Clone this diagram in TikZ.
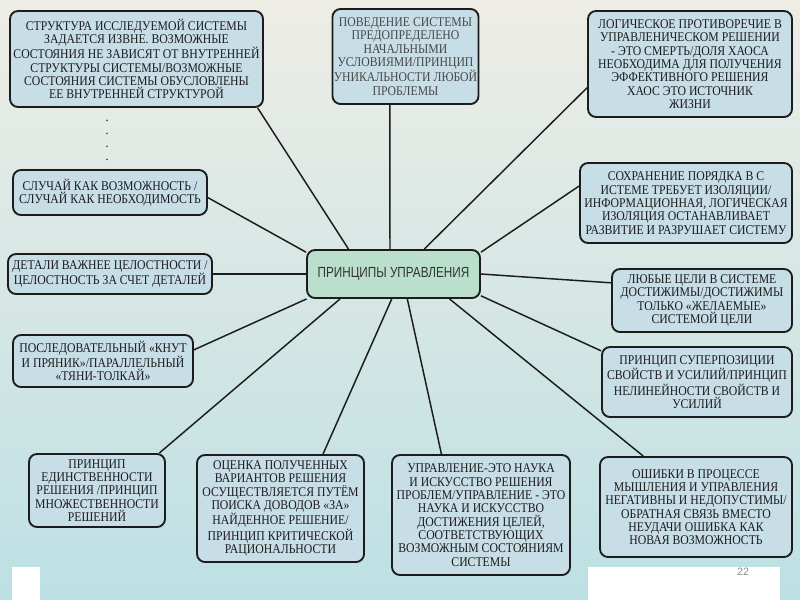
\documentclass[tikz,border=0pt]{standalone}
\usepackage{fontspec}
\usepackage{tikz}
\usetikzlibrary{positioning, calc}
\setmainfont{Liberation Serif}
\newfontfamily\boxfont[FakeStretch=0.88]{Liberation Serif}
\newfontfamily\hubfont[FakeStretch=0.8]{Liberation Sans}
\newfontfamily\numfont{Liberation Sans}
\definecolor{BoxBlue}{RGB}{200,222,231}
\definecolor{HubGreen}{RGB}{186,224,205}
\definecolor{BgTop}{RGB}{238,237,229}
\definecolor{BgBottom}{RGB}{189,224,228}
\definecolor{InkDark}{RGB}{28,28,28}

\begin{document}
\begin{tikzpicture}[x=0.75pt,y=-0.75pt,
        idea/.style={draw=InkDark,fill=BoxBlue,rounded corners=6pt,
                     line width=1.4pt,align=center,inner sep=1pt,
                     text=InkDark,font=\boxfont\fontsize{10}{10}\selectfont},
        hub/.style={draw=InkDark,fill=HubGreen,rounded corners=6pt,
                    line width=1.4pt,align=center,text=black!80,
                    font=\hubfont\fontsize{11}{12}\selectfont},
        dotmark/.style={font=\boxfont\fontsize{10}{10}\selectfont,inner sep=0pt},
        link/.style={draw=InkDark,line width=1.1pt}
      ]
        \useasboundingbox (0,0) rectangle (800,600);
        \shade[top color=BgTop,bottom color=BgBottom] (0,0) rectangle (800,600);
        \fill[white] (12,567) rectangle (40,600);
        \fill[white] (588,567) rectangle (780,600);
        \node[font=\numfont\fontsize{8}{8}\selectfont,text=black!45] (pg) at (743,572) {22};

        % centre
        \node[hub,minimum width=129.75pt,minimum height=36pt] (hub) at (393.5,274)
          {ПРИНЦИПЫ УПРАВЛЕНИЯ};

        % top row
        \node[idea,minimum width=189.75pt,minimum height=72pt] (tl) at (136.5,59)
          {СТРУКТУРА ИССЛЕДУЕМОЙ СИСТЕМЫ\\ЗАДАЕТСЯ ИЗВНЕ. ВОЗМОЖНЫЕ\\
           СОСТОЯНИЯ НЕ ЗАВИСЯТ ОТ ВНУТРЕННЕЙ\\СТРУКТУРЫ СИСТЕМЫ/ВОЗМОЖНЫЕ\\
           СОСТОЯНИЯ СИСТЕМЫ ОБУСЛОВЛЕНЫ\\ЕЕ ВНУТРЕННЕЙ СТРУКТУРОЙ};
        \node[idea,text=black!72,minimum width=102.75pt,minimum height=71.25pt] (tm) at (405.5,56.5)
          {ПОВЕДЕНИЕ СИСТЕМЫ\\ПРЕДОПРЕДЕЛЕНО\\НАЧАЛЬНЫМИ\\
           УСЛОВИЯМИ/ПРИНЦИП\\УНИКАЛЬНОСТИ ЛЮБОЙ\\ПРОБЛЕМЫ};
        \node[idea,minimum width=153pt,minimum height=79.5pt] (tr) at (690,64)
          {ЛОГИЧЕСКОЕ ПРОТИВОРЕЧИЕ В\\УПРАВЛЕНИЧЕСКОМ РЕШЕНИИ\\
           - ЭТО СМЕРТЬ/ДОЛЯ ХАОСА\\НЕОБХОДИМА ДЛЯ ПОЛУЧЕНИЯ\\
           ЭФФЕКТИВНОГО РЕШЕНИЯ\\ХАОС ЭТО ИСТОЧНИК\\ЖИЗНИ};
        \foreach \y [count=\i] in {121,134,147,160}
          \node[dotmark] (dot\i) at (107,\y) {.};

        % right column
        \node[idea,minimum width=159pt,minimum height=60pt] (r1) at (686,203)
          {СОХРАНЕНИЕ ПОРЯДКА В С\\ИСТЕМЕ ТРЕБУЕТ ИЗОЛЯЦИИ/\\
           ИНФОРМАЦИОННАЯ, ЛОГИЧЕСКАЯ\\ИЗОЛЯЦИЯ ОСТАНАВЛИВАЕТ\\
           РАЗВИТИЕ И РАЗРУШАЕТ СИСТЕМУ};
        \node[idea,minimum width=135pt,minimum height=47.25pt] (r2) at (702,300.5)
          {ЛЮБЫЕ ЦЕЛИ В СИСТЕМЕ\\ДОСТИЖИМЫ/ДОСТИЖИМЫ\\
           ТОЛЬКО «ЖЕЛАЕМЫЕ»\\СИСТЕМОЙ ЦЕЛИ};
        \node[idea,minimum width=142.5pt,minimum height=52.5pt] (r3) at (697,382)
          {ПРИНЦИП СУПЕРПОЗИЦИИ\\СВОЙСТВ И УСИЛИЙ/ПРИНЦИП\\
           НЕЛИНЕЙНОСТИ СВОЙСТВ И\\УСИЛИЙ};

        % left column
        \node[idea,minimum width=145.5pt,minimum height=33.75pt] (l1) at (110,192.5)
          {СЛУЧАЙ КАК ВОЗМОЖНОСТЬ /\\СЛУЧАЙ КАК НЕОБХОДИМОСТЬ};
        \node[idea,minimum width=153pt,minimum height=30pt] (l2) at (110,274)
          {ДЕТАЛИ ВАЖНЕЕ ЦЕЛОСТНОСТИ /\\ЦЕЛОСТНОСТЬ ЗА СЧЕТ ДЕТАЛЕЙ};
        \node[idea,minimum width=135pt,minimum height=39pt] (l3) at (103,361)
          {ПОСЛЕДОВАТЕЛЬНЫЙ «КНУТ\\И ПРЯНИК»/ПАРАЛЛЕЛЬНЫЙ\\«ТЯНИ-ТОЛКАЙ»};

        % bottom row
        \node[idea,minimum width=102pt,minimum height=54.75pt] (b1) at (97,490.5)
          {ПРИНЦИП\\ЕДИНСТВЕННОСТИ\\РЕШЕНИЯ /ПРИНЦИП\\МНОЖЕСТВЕННОСТИ\\РЕШЕНИЙ};
        \node[idea,minimum width=125.25pt,minimum height=80.25pt] (b2) at (280.5,508.5)
          {ОЦЕНКА ПОЛУЧЕННЫХ\\ВАРИАНТОВ РЕШЕНИЯ\\ОСУЩЕСТВЛЯЕТСЯ ПУТЁМ\\
           ПОИСКА ДОВОДОВ «ЗА»\\НАЙДЕННОЕ РЕШЕНИЕ/\\ПРИНЦИП КРИТИЧЕСКОЙ\\
           РАЦИОНАЛЬНОСТИ};
        \node[idea,minimum width=133.5pt,minimum height=90pt] (b3) at (481,515)
          {УПРАВЛЕНИЕ-ЭТО НАУКА\\И ИСКУССТВО РЕШЕНИЯ\\ПРОБЛЕМ/УПРАВЛЕНИЕ - ЭТО\\
           НАУКА И ИСКУССТВО\\ДОСТИЖЕНИЯ ЦЕЛЕЙ,\\СООТВЕТСТВУЮЩИХ\\
           ВОЗМОЖНЫМ СОСТОЯНИЯМ\\СИСТЕМЫ};
        \node[idea,minimum width=144pt,minimum height=75pt] (b4) at (696,507)
          {ОШИБКИ В ПРОЦЕССЕ\\МЫШЛЕНИЯ И УПРАВЛЕНИЯ\\НЕГАТИВНЫ И НЕДОПУСТИМЫ/\\
           ОБРАТНАЯ СВЯЗЬ ВМЕСТО\\НЕУДАЧИ ОШИБКА КАК\\НОВАЯ ВОЗМОЖНОСТЬ};

        % spokes
        \draw[link] (hub.151) -- (tl.-22);
        \draw[link] (hub.98) -- (tm.-108);
        \draw[link] (hub.39) -- (tr.193);
        \draw[link] (hub.14) -- (r1.171);
        \draw[link] (hub.0) -- (r2.169);
        \draw[link] (hub.-14) -- (r3.162);
        \draw[link] (hub.-24) -- (b4.136);
        \draw[link] (hub.-61) -- (b3.123);
        \draw[link] (hub.-94) -- (b2.52);
        \draw[link] (hub.205) -- (b1.31);
        \draw[link] (hub.196) -- (l3.7);
        \draw[link] (hub.west) -- (l2.east);
        \draw[link] (hub.166) -- (l1.-3);
      \end{tikzpicture}
\end{document}
